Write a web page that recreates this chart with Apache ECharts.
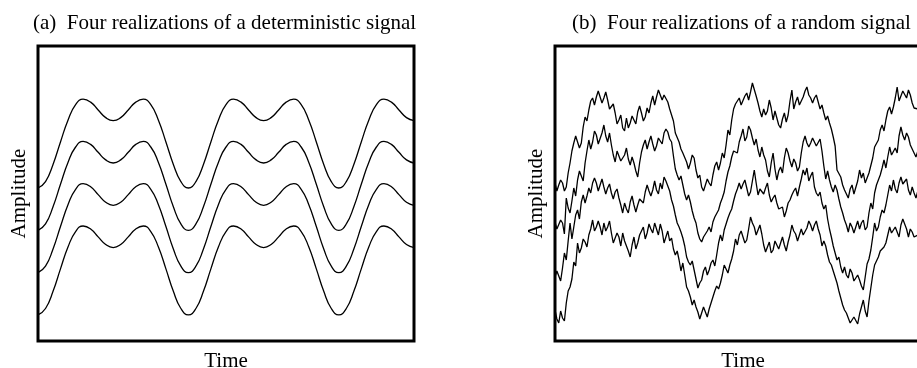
<!DOCTYPE html>
<html lang="en">
<head>
    <meta charset="utf-8">
    <title>Deterministic vs random signal</title>
    <style>
        html, body { margin: 0; padding: 0; background: #fff; }
        #chart { width: 917px; height: 368px; }
    </style>
</head>
<body>
    <div id="chart"></div>
    <script src="https://cdn.jsdelivr.net/npm/echarts@6/dist/echarts.min.js"></script>
    <script type="text/javascript">
        //titles / axis names
        var titles = ["(a)  Four realizations of a deterministic signal", "(b)  Four realizations of a random signal"];
        var xName = "Time";
        var yName = "Amplitude";

        //deterministic signal, one sample every 2 time units (0..100)
        var det1 = [153, 159.4, 176.6, 199.3, 221.1, 236.3, 241.9, 238.9, 231.0, 223.4, 220.3, 223.4, 231.0, 238.9, 241.9, 236.3, 221.1, 199.3, 176.6, 159.4,
            153, 159.4, 176.6, 199.3, 221.1, 236.3, 241.9, 238.9, 231.0, 223.4, 220.3, 223.4, 231.0, 238.9, 241.9, 236.3, 221.1, 199.3, 176.6, 159.4,
            153, 159.4, 176.6, 199.3, 221.1, 236.3, 241.9, 238.9, 231.0, 223.4, 220.3];
        var det2 = [110.7, 117.1, 134.3, 157.0, 178.8, 194.0, 199.6, 196.6, 188.7, 181.1, 178.0, 181.1, 188.7, 196.6, 199.6, 194.0, 178.8, 157.0, 134.3, 117.1,
            110.7, 117.1, 134.3, 157.0, 178.8, 194.0, 199.6, 196.6, 188.7, 181.1, 178.0, 181.1, 188.7, 196.6, 199.6, 194.0, 178.8, 157.0, 134.3, 117.1,
            110.7, 117.1, 134.3, 157.0, 178.8, 194.0, 199.6, 196.6, 188.7, 181.1, 178.0];
        var det3 = [68.4, 74.8, 92.0, 114.7, 136.5, 151.7, 157.3, 154.3, 146.4, 138.8, 135.7, 138.8, 146.4, 154.3, 157.3, 151.7, 136.5, 114.7, 92.0, 74.8,
            68.4, 74.8, 92.0, 114.7, 136.5, 151.7, 157.3, 154.3, 146.4, 138.8, 135.7, 138.8, 146.4, 154.3, 157.3, 151.7, 136.5, 114.7, 92.0, 74.8,
            68.4, 74.8, 92.0, 114.7, 136.5, 151.7, 157.3, 154.3, 146.4, 138.8, 135.7];
        var det4 = [26.1, 32.5, 49.7, 72.4, 94.2, 109.4, 115.0, 112.0, 104.1, 96.5, 93.4, 96.5, 104.1, 112.0, 115.0, 109.4, 94.2, 72.4, 49.7, 32.5,
            26.1, 32.5, 49.7, 72.4, 94.2, 109.4, 115.0, 112.0, 104.1, 96.5, 93.4, 96.5, 104.1, 112.0, 115.0, 109.4, 94.2, 72.4, 49.7, 32.5,
            26.1, 32.5, 49.7, 72.4, 94.2, 109.4, 115.0, 112.0, 104.1, 96.5, 93.4];

        //random signal, one sample every half time unit (0..100)
        var rnd1 = [158, 150, 156, 161, 158, 150, 154, 168, 178, 190, 198, 205, 199, 193, 198, 214, 224, 220, 231, 240, 243, 236, 244, 250, 248, 238, 243, 249, 241, 232, 231, 237, 228, 217, 221, 226, 213, 210, 223, 213,
            218, 225, 224, 217, 229, 235, 228, 220, 224, 233, 228, 238, 245, 236, 244, 251, 249, 241, 246, 248, 239, 232, 226, 220, 208, 210, 199, 192, 188, 190, 179, 172, 178, 186, 183, 171, 163, 166, 154, 150,
            156, 162, 158, 155, 166, 175, 179, 171, 178, 188, 183, 196, 211, 206, 221, 232, 237, 235, 243, 236, 238, 245, 248, 241, 249, 258, 256, 245, 238, 230, 224, 232, 226, 230, 241, 233, 221, 230, 228, 216,
            213, 222, 228, 219, 226, 240, 251, 232, 239, 244, 236, 237, 244, 250, 254, 246, 243, 238, 243, 246, 239, 232, 236, 228, 221, 225, 218, 212, 204, 195, 171, 170, 164, 156, 151, 149, 143, 152, 156, 147,
            149, 160, 171, 163, 168, 158, 159, 168, 168, 183, 194, 192, 201, 211, 216, 210, 221, 230, 234, 227, 234, 243, 254, 240, 242, 250, 248, 243, 251, 246, 238, 233, 231, 232, 225, 232, 228, 220, 219, 226, 222];
        var rnd2 = [119, 112, 114, 121, 118, 107, 143, 133, 128, 140, 153, 145, 161, 170, 168, 160, 178, 190, 201, 192, 199, 210, 206, 197, 198, 208, 216, 205, 199, 208, 196, 186, 179, 190, 189, 180, 178, 186, 193, 182,
            176, 184, 178, 170, 164, 178, 189, 196, 201, 192, 199, 205, 197, 190, 195, 203, 201, 197, 208, 212, 209, 202, 199, 185, 172, 166, 161, 165, 156, 147, 141, 146, 139, 130, 123, 118, 108, 102, 99, 104,
            106, 110, 114, 109, 119, 124, 126, 131, 138, 143, 149, 160, 169, 175, 184, 190, 192, 188, 199, 205, 212, 200, 204, 215, 211, 203, 196, 202, 191, 184, 194, 186, 181, 170, 164, 178, 188, 172, 161, 170,
            174, 168, 183, 193, 188, 180, 174, 182, 178, 170, 174, 188, 199, 205, 198, 194, 198, 203, 201, 195, 196, 202, 190, 175, 162, 170, 161, 154, 149, 156, 151, 142, 134, 128, 121, 116, 109, 118, 114, 108,
            114, 120, 112, 118, 121, 111, 114, 128, 138, 132, 148, 156, 161, 166, 173, 181, 173, 184, 194, 186, 184, 193, 188, 205, 214, 206, 201, 208, 204, 196, 194, 188, 184, 190, 190, 183, 185, 188, 180, 178, 182];
        var rnd3 = [64, 70, 68, 60, 73, 88, 81, 100, 118, 102, 114, 126, 131, 122, 139, 146, 138, 145, 153, 148, 158, 163, 158, 150, 156, 162, 154, 147, 153, 157, 148, 142, 149, 152, 143, 136, 128, 138, 132, 128,
            139, 145, 136, 129, 136, 142, 144, 138, 149, 156, 150, 145, 151, 160, 151, 147, 158, 152, 164, 160, 158, 150, 141, 135, 126, 118, 114, 109, 103, 95, 84, 79, 76, 80, 71, 62, 53, 58, 61, 70,
            74, 66, 71, 78, 81, 75, 86, 98, 106, 100, 111, 117, 123, 128, 132, 140, 147, 152, 158, 152, 157, 161, 153, 145, 149, 160, 171, 158, 146, 152, 154, 147, 153, 158, 146, 139, 143, 146, 138, 132,
            131, 134, 124, 130, 138, 141, 146, 150, 153, 145, 154, 162, 171, 166, 173, 160, 165, 169, 154, 148, 145, 149, 138, 132, 136, 122, 112, 104, 95, 88, 81, 84, 74, 68, 74, 66, 63, 72, 68, 60,
            59, 66, 61, 55, 51, 64, 77, 82, 91, 104, 118, 110, 114, 124, 131, 128, 136, 146, 156, 150, 161, 152, 148, 158, 164, 157, 156, 162, 151, 146, 154, 148, 143, 150, 147, 141, 140, 143, 138, 133, 136];
        var rnd4 = [31, 22, 18, 30, 23, 20, 38, 50, 54, 62, 79, 75, 98, 88, 93, 102, 99, 94, 106, 112, 121, 110, 114, 120, 114, 106, 118, 110, 114, 120, 108, 98, 96, 108, 104, 95, 108, 100, 98, 90,
            84, 96, 104, 92, 98, 106, 110, 114, 102, 108, 117, 112, 108, 118, 117, 106, 117, 110, 98, 104, 110, 100, 103, 92, 86, 90, 81, 70, 78, 66, 54, 50, 44, 36, 41, 34, 29, 22, 28, 34,
            29, 24, 32, 38, 44, 50, 55, 52, 58, 66, 76, 72, 68, 76, 82, 90, 102, 96, 106, 110, 104, 98, 101, 112, 124, 118, 114, 106, 111, 116, 107, 96, 89, 94, 99, 88, 91, 100, 96, 92,
            98, 104, 96, 90, 99, 106, 116, 110, 107, 100, 106, 112, 106, 108, 113, 120, 116, 110, 116, 120, 112, 106, 95, 100, 95, 86, 79, 76, 70, 64, 58, 50, 43, 36, 31, 28, 23, 18, 16, 24,
            23, 17, 27, 34, 41, 30, 24, 40, 53, 66, 76, 80, 84, 90, 88, 94, 98, 106, 114, 108, 111, 114, 109, 104, 116, 122, 121, 112, 104, 112, 109, 104, 103, 106, 100, 98, 96, 92, 95, 96, 94];

        var detStep = 2;
        var rndStep = 0.5;

        //pair each sample with its time
        function toPoints(values, step) {
            return values.map(function (v, i) { return [i * step, v]; });
        }

        function lineSeries(values, step, idx, smooth) {
            return {
                type: "line",
                xAxisIndex: idx,
                yAxisIndex: idx,
                data: toPoints(values, step),
                smooth: smooth,
                showSymbol: false,
                silent: true,
                lineStyle: { color: "#000", width: 1.3 }
            };
        }

        var serif = "'Liberation Serif', 'Times New Roman', serif";
        var nameStyle = { color: "#000", fontFamily: serif, fontSize: 21 };

        function xAxisOf(idx) {
            return {
                gridIndex: idx, type: "value", min: 0, max: 100,
                name: xName, nameLocation: "middle", nameGap: 10, nameTextStyle: nameStyle,
                axisLine: { show: false }, axisTick: { show: false }, axisLabel: { show: false }, splitLine: { show: false }
            };
        }
        function yAxisOf(idx) {
            return {
                gridIndex: idx, type: "value", min: 0, max: 295,
                name: yName, nameLocation: "middle", nameGap: 8, nameTextStyle: nameStyle,
                axisLine: { show: false }, axisTick: { show: false }, axisLabel: { show: false }, splitLine: { show: false }
            };
        }

        //panel (b) runs past the right edge of the picture, so no outer-bounds squeezing
        function gridOf(left) {
            return {
                left: left, top: 46, width: 376, height: 295,
                show: true, borderColor: "#000", borderWidth: 3,
                containLabel: false, outerBoundsMode: "none"
            };
        }

        var titleStyle = { color: "#000", fontFamily: serif, fontSize: 21, fontWeight: "normal" };

        var option = {
            animation: false,
            backgroundColor: "#fff",
            title: [
                { text: titles[0], left: 33, top: 13, padding: 0, textStyle: titleStyle },
                { text: titles[1], left: 572, top: 13, padding: 0, textStyle: titleStyle }
            ],
            grid: [gridOf(38), gridOf(555)],
            xAxis: [xAxisOf(0), xAxisOf(1)],
            yAxis: [yAxisOf(0), yAxisOf(1)],
            series: [
                lineSeries(det1, detStep, 0, true),
                lineSeries(det2, detStep, 0, true),
                lineSeries(det3, detStep, 0, true),
                lineSeries(det4, detStep, 0, true),
                lineSeries(rnd1, rndStep, 1, false),
                lineSeries(rnd2, rndStep, 1, false),
                lineSeries(rnd3, rndStep, 1, false),
                lineSeries(rnd4, rndStep, 1, false)
            ]
        };

        var chart = echarts.init(document.getElementById("chart"), null, { renderer: "canvas" });
        chart.setOption(option);
    </script>
</body>
</html>
